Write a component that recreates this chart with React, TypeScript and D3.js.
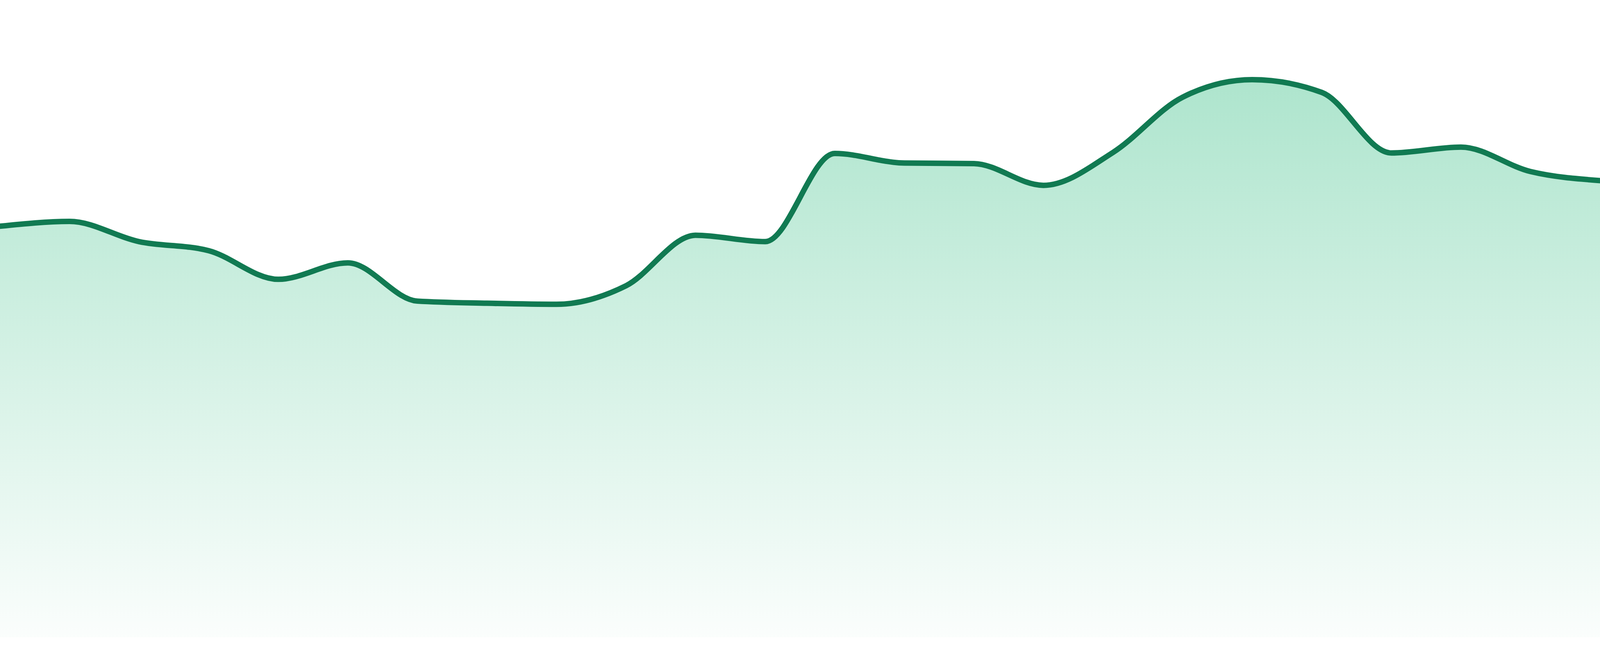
import { useEffect, useMemo, useState } from "react";
import * as d3 from "d3";

// Daily readings, one per point along the x axis
const days = [
  "D01", "D02", "D03", "D04", "D05", "D06", "D07", "D08",
  "D09", "D10", "D11", "D12", "D13", "D14", "D15", "D16",
  "D17", "D18", "D19", "D20", "D21", "D22", "D23", "D24",
];

const values = [
  77.4, 78.3, 74.5, 72.8, 67.4, 70.5, 63.3, 62.9,
  62.7, 66.2, 75.7, 74.5, 91.1, 89.3, 89.2, 85.1,
  91.3, 101.7, 105.0, 102.6, 91.2, 92.3, 87.7, 86.0,
];

const yDomain = [0, 120];

const STROKE = "#117a52";
const FILL = "#29ba7c";

export default function App() {
  // the page may be narrower than the requested window, so size to the viewport
  const [size, setSize] = useState({ width: 4800, height: 1680 });

  useEffect(() => {
    document.body.style.margin = "0";
    document.body.style.overflow = "hidden";
    document.body.style.background = "#ffffff";
    const measure = () =>
      setSize({ width: window.innerWidth, height: window.innerHeight });
    measure();
    window.addEventListener("resize", measure);
    return () => window.removeEventListener("resize", measure);
  }, []);

  const { width, height } = size;
  const margin = { top: 0, right: 0, bottom: 48 * (height / 1680), left: 0 };
  const innerHeight = height - margin.bottom;

  const data = useMemo(
    () => days.map((d, i) => ({ day: d, value: values[i] })),
    []
  );

  // Scales
  const xScale = d3.scalePoint<string>().domain(days).range([0, width]);
  const yScale = d3.scaleLinear().domain(yDomain).range([innerHeight, 0]);

  const lineGenerator = d3
    .line<{ day: string; value: number }>()
    .x((d) => xScale(d.day) ?? 0)
    .y((d) => yScale(d.value))
    .curve(d3.curveMonotoneX);

  const areaGenerator = d3
    .area<{ day: string; value: number }>()
    .x((d) => xScale(d.day) ?? 0)
    .y0(yScale(0))
    .y1((d) => yScale(d.value))
    .curve(d3.curveMonotoneX);

  return (
    <svg
      width={width}
      height={height}
      style={{ position: "absolute", left: 0, top: 0, display: "block", background: "#fff" }}
    >
      <defs>
        <linearGradient id="areaFill" x1="0" y1="0" x2="0" y2="1">
          <stop offset="0%" stopColor={FILL} stopOpacity={0.38} />
          <stop offset="100%" stopColor={FILL} stopOpacity={0.02} />
        </linearGradient>
      </defs>

      {/* Area */}
      <path d={areaGenerator(data) || ""} fill="url(#areaFill)" stroke="none" />

      {/* Line */}
      <path
        d={lineGenerator(data) || ""}
        fill="none"
        stroke={STROKE}
        strokeWidth={14}
        strokeLinejoin="round"
        strokeLinecap="round"
      />
    </svg>
  );
}
